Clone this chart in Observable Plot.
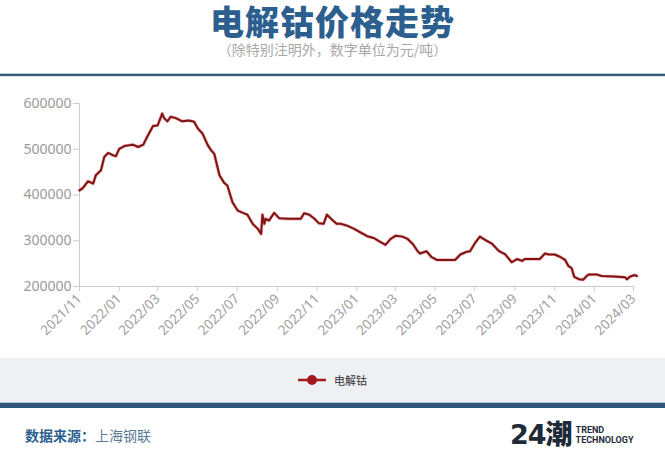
<!DOCTYPE html>
<html>
<head>
<meta charset="utf-8">
<script src="https://cdn.jsdelivr.net/npm/d3@7"></script>
<script src="https://cdn.jsdelivr.net/npm/@observablehq/plot@0.6"></script>
<style>
  html, body { margin: 0; padding: 0; background: #fff; }
  #page { position: relative; width: 665px; height: 451px; overflow: hidden; background: #fff;
          font-family: "Noto Sans CJK SC", "Noto Sans", sans-serif; }
  #title { position: absolute; top: 1px; left: 0; width: 665px; text-align: center;
           font-size: 34px; font-weight: 900; color: #2c5f8e; letter-spacing: 1px; line-height: 40px; }
  #subtitle { position: absolute; top: 41px; left: 0; width: 665px; text-align: center;
              font-size: 14px; color: #a8a8a8; line-height: 16px; }
  #topbar { position: absolute; top: 73px; left: 0; width: 665px; height: 2px; background: #3d5a6e;
            border-top: 1px solid #a9c9dd; border-bottom: 1px solid #d5e6f0; }
  #chart { position: absolute; top: 77px; left: 0; }
  #legend { position: absolute; top: 358px; left: 0; width: 665px; height: 44px; background: #eef0f3;
            display: flex; align-items: center; justify-content: center; font-size: 11px; color: #333; }
  #legend svg { margin-right: 8px; }
  #botbar { position: absolute; top: 402px; left: 0; width: 665px; height: 5px; background: #2f5878;
            border-top: 1px solid #a9c9dd; }
  #source { position: absolute; top: 425px; left: 25px; font-size: 14px; line-height: 20px; }
  #source b { color: #2c5f8e; font-weight: 700; }
  #source span { color: #5b7b96; }
  #logo { position: absolute; top: 419px; left: 510px; display: flex; align-items: flex-start; }
  #logo .big { font-family: "DejaVu Sans", "Noto Sans CJK SC", sans-serif; font-weight: 900; font-size: 27px;
               color: #1e2a38; line-height: 32px; letter-spacing: -1px; }
  #logo .small { margin-left: 4px; margin-top: 6px; font-family: "Liberation Sans Narrow", "Roboto", sans-serif;
                 font-size: 9px; line-height: 10px; color: #1e2a38; font-weight: 700; }
</style>
</head>
<body>
<div id="page">
  <div id="title">电解钴价格走势</div>
  <div id="subtitle">（除特别注明外，数字单位为元/吨）</div>
  <div id="topbar"></div>
  <div id="chart"></div>
  <div id="legend">
    <svg width="28" height="12"><line x1="0" y1="6" x2="28" y2="6" stroke="#a3191c" stroke-width="2.5"/><circle cx="14" cy="6" r="5" fill="#a3191c"/></svg>
    <span>电解钴</span>
  </div>
  <div id="botbar"></div>
  <div id="source"><b>数据来源：</b><span>上海钢联</span></div>
  <div id="logo"><div class="big">24潮</div><div class="small">TREND<br>TECHNOLOGY</div></div>
</div>
<script>
// Series: electrolytic cobalt price (yuan/ton)
const dates = [
  "2021-11-01","2021-11-06","2021-11-14","2021-11-22","2021-11-26","2021-12-04","2021-12-09","2021-12-15",
  "2021-12-22","2021-12-27","2022-01-01","2022-01-09","2022-01-17","2022-01-22","2022-01-30","2022-02-07",
  "2022-02-14","2022-02-22","2022-03-01","2022-03-08","2022-03-11","2022-03-16","2022-03-21","2022-03-29",
  "2022-04-08","2022-04-18","2022-04-26","2022-05-02","2022-05-09","2022-05-17","2022-05-22","2022-05-27",
  "2022-06-04","2022-06-11","2022-06-16","2022-06-24","2022-07-02","2022-07-10","2022-07-17","2022-07-25",
  "2022-08-02","2022-08-07","2022-08-09","2022-08-12","2022-08-14","2022-08-19","2022-08-27","2022-09-04",
  "2022-09-17","2022-10-07","2022-10-12","2022-10-20","2022-10-28","2022-11-04","2022-11-11","2022-11-16",
  "2022-11-24","2022-12-01","2022-12-07","2022-12-17","2022-12-28","2023-01-07","2023-01-17","2023-01-27",
  "2023-02-04","2023-02-14","2023-02-22","2023-03-02","2023-03-12","2023-03-20","2023-03-28","2023-04-04",
  "2023-04-08","2023-04-18","2023-04-26","2023-05-04","2023-05-19","2023-06-01","2023-06-09","2023-06-19",
  "2023-06-24","2023-07-02","2023-07-09","2023-07-17","2023-07-28","2023-08-07","2023-08-17","2023-08-27",
  "2023-09-04","2023-09-12","2023-09-16","2023-10-09","2023-10-17","2023-10-23","2023-11-01","2023-11-09",
  "2023-11-17","2023-11-22","2023-11-27","2023-12-01","2023-12-08","2023-12-15","2023-12-20","2023-12-23",
  "2024-01-05","2024-01-12","2024-01-30","2024-02-17","2024-02-20","2024-02-25","2024-03-03","2024-03-06"
];
const prices = [
  410000,415000,430000,425000,443000,454000,483000,492000,
  487000,485000,501000,507000,509000,510000,505000,510000,
  530000,551000,552000,578000,568000,561000,571000,568000,
  561000,563000,560000,545000,534000,509000,498000,490000,
  443000,427000,421000,384000,366000,361000,357000,337000,
  326000,315000,357000,337000,348000,344000,361000,349000,
  348000,348000,360000,357000,348000,338000,337000,357000,
  346000,337000,337000,333000,326000,318000,310000,306000,
  299000,291000,304000,311000,309000,304000,293000,278000,
  272000,277000,264000,258000,258000,258000,270000,276000,
  277000,296000,309000,302000,293000,278000,270000,253000,
  260000,256000,260000,260000,272000,270000,270000,265000,
  258000,245000,240000,221000,216000,215000,223000,226000,
  226000,223000,222000,220000,216000,222000,225000,223000
];
const seriesName = "电解钴";
const xTickLabels = ["2021/11","2022/01","2022/03","2022/05","2022/07","2022/09","2022/11",
  "2023/01","2023/03","2023/05","2023/07","2023/09","2023/11","2024/01","2024/03"];
const yTicks = [200000, 300000, 400000, 500000, 600000];

const parse = d3.utcParse("%Y-%m-%d");
const data = dates.map((d, i) => ({date: parse(d), price: prices[i]}));
const xTicks = xTickLabels.map(s => d3.utcParse("%Y/%m")(s));

const chart = Plot.plot({
  width: 665,
  height: 280,
  marginLeft: 79,
  marginRight: 32,
  marginTop: 26,
  marginBottom: 71,
  style: {fontFamily: "'Noto Sans', 'Open Sans', sans-serif", background: "transparent"},
  x: {type: "utc", domain: [xTicks[0], xTicks[xTicks.length - 1]]},
  y: {domain: [200000, 600000]},
  marks: [
    Plot.ruleY([200000], {stroke: "#cccccc", strokeWidth: 1}),
    Plot.ruleX([xTicks[0]], {stroke: "#cccccc", strokeWidth: 1}),
    Plot.axisY({ticks: yTicks, tickFormat: d => String(d), tickSize: 6, stroke: "#cccccc",
      fill: "#9a9a9a", fontSize: 14, tickPadding: 2, label: null}),
    Plot.axisX({ticks: xTicks, tickFormat: d3.utcFormat("%Y/%m"), tickSize: 5, stroke: "#cccccc",
      fill: "#a0a0a0", fontSize: 13.5, tickRotate: -45, tickPadding: 5, label: null}),
    Plot.line(data, {x: "date", y: "price", stroke: "#e25a5a", strokeWidth: 3.2, strokeOpacity: 0.5,
      strokeLinejoin: "round"}),
    Plot.line(data, {x: "date", y: "price", stroke: "#7e1414", strokeWidth: 2,
      strokeLinejoin: "round"})
  ]
});
document.getElementById("chart").appendChild(chart);
</script>
</body>
</html>
